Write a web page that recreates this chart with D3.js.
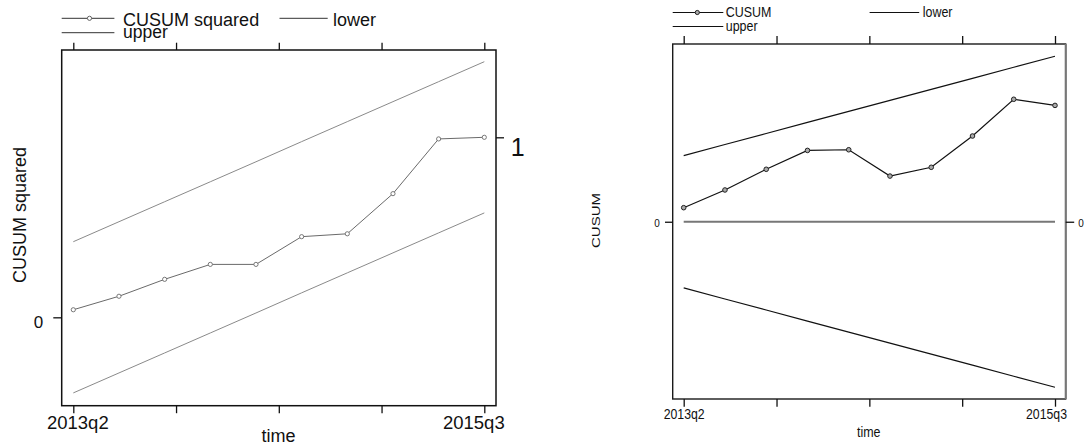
<!DOCTYPE html>
<html>
<head>
<meta charset="utf-8">
<script src="https://cdn.jsdelivr.net/npm/d3@7"></script>
<style>
  html, body { margin: 0; padding: 0; background: #fff; }
  svg { display: block; font-family: "Liberation Sans", Arial, sans-serif; }
</style>
</head>
<body>
<svg id="chart" width="1086" height="446"></svg>
<script>
// ---------- data ----------
const quarters = ["2013q2","2013q3","2013q4","2014q1","2014q2","2014q3","2014q4","2015q1","2015q2","2015q3"];
const cusumSquared = [0.042, 0.117, 0.211, 0.294, 0.294, 0.448, 0.464, 0.687, 0.991, 1.0];
const sqUpper = [0.42, 0.531, 0.642, 0.753, 0.864, 0.976, 1.087, 1.198, 1.309, 1.42];
const sqLower = [-0.42, -0.309, -0.198, -0.087, 0.024, 0.136, 0.247, 0.358, 0.469, 0.58];
const cusum = [0.85, 1.92, 3.17, 4.31, 4.35, 2.76, 3.29, 5.18, 7.40, 7.03];
const cusumUpper = [4.0, 4.667, 5.333, 6.0, 6.667, 7.333, 8.0, 8.667, 9.333, 10.0];
const cusumLower = [-4.0, -4.667, -5.333, -6.0, -6.667, -7.333, -8.0, -8.667, -9.333, -10.0];
const xTickPositions = [0, 2.25, 4.5, 6.75, 9];
const xTickLabels = ["2013q2", "", "", "", "2015q3"];
const leftTitles = { y: "CUSUM squared", x: "time" };
const rightTitles = { y: "CUSUM", x: "time" };
const legendLeft = ["CUSUM squared", "lower", "upper"];
const legendRight = ["CUSUM", "lower", "upper"];

const svg = d3.select("#chart");

// ================= LEFT PANEL =================
(function () {
  const box = { l: 61.7, r: 496, t: 50, b: 405.7 };
  const x = d3.scaleLinear().domain([0, quarters.length - 1]).range([73.3, 484.3]);
  const y = d3.scaleLinear().domain([-0.491, 1.485]).range([box.b, box.t]);
  const g = svg.append("g");

  const line = d3.line().x((d, i) => x(i)).y(d => y(d));
  g.append("path").datum(sqUpper).attr("d", line).attr("fill", "none").attr("stroke", "#8a8a8a").attr("stroke-width", 1);
  g.append("path").datum(sqLower).attr("d", line).attr("fill", "none").attr("stroke", "#8a8a8a").attr("stroke-width", 1);
  g.append("path").datum(cusumSquared).attr("d", line).attr("fill", "none").attr("stroke", "#6a6a6a").attr("stroke-width", 1);
  g.selectAll("circle.pt").data(cusumSquared).join("circle").attr("class", "pt")
    .attr("cx", (d, i) => x(i)).attr("cy", d => y(d)).attr("r", 2.1)
    .attr("fill", "#fff").attr("stroke", "#6a6a6a").attr("stroke-width", 0.9);

  g.append("rect").attr("x", box.l).attr("y", box.t).attr("width", box.r - box.l).attr("height", box.b - box.t)
    .attr("fill", "none").attr("stroke", "#111").attr("stroke-width", 1.5);

  // bottom axis
  const ax = g.append("g").attr("transform", `translate(0,${box.b})`)
    .call(d3.axisBottom(x).tickValues(xTickPositions).tickSize(7.5).tickFormat((d, i) => xTickLabels[i]));
  ax.select(".domain").remove();
  ax.selectAll("line").attr("stroke", "#111").attr("stroke-width", 1.3);
  ax.selectAll("text").attr("y", 23.3).attr("dy", 0).attr("fill", "#111")
    .style("font-size", "18.5px").attr("dx", (d, i) => i === 0 ? 4 : (i === 4 ? -11 : 0));

  // top axis
  const at = g.append("g").attr("transform", `translate(0,${box.t})`)
    .call(d3.axisTop(x).tickValues(xTickPositions).tickSize(7.3).tickFormat(""));
  at.select(".domain").remove();
  at.selectAll("line").attr("stroke", "#111").attr("stroke-width", 1.3);

  // left axis (0)
  const al = g.append("g").attr("transform", `translate(${box.l},0)`)
    .call(d3.axisLeft(y).tickValues([0]).tickSize(8.4).tickFormat(d3.format("d")));
  al.select(".domain").remove();
  al.selectAll("line").attr("stroke", "#111").attr("stroke-width", 1.3);
  al.selectAll("text").attr("x", -18.4).attr("dy", 0).attr("y", 9.7).attr("fill", "#111").style("font-size", "17px");

  // right axis (1)
  const ar = g.append("g").attr("transform", `translate(${box.r},0)`)
    .call(d3.axisRight(y).tickValues([1]).tickSize(8).tickFormat(d3.format("d")));
  ar.select(".domain").remove();
  ar.selectAll("line").attr("stroke", "#111").attr("stroke-width", 1.3);
  ar.selectAll("text").attr("x", 14.7).attr("dy", 0).attr("y", 17.7).attr("fill", "#111").style("font-size", "25px");

  // titles
  g.append("text").attr("x", 278.5).attr("y", 441.5).attr("text-anchor", "middle")
    .style("font-size", "18px").attr("fill", "#111").text(leftTitles.x);
  g.append("text").attr("transform", "translate(26,215) rotate(-90)").attr("text-anchor", "middle")
    .style("font-size", "18px").attr("fill", "#111").text(leftTitles.y);

  // legend
  const lg = g.append("g");
  lg.append("line").attr("x1", 61.7).attr("x2", 114.4).attr("y1", 18.3).attr("y2", 18.3).attr("stroke", "#333").attr("stroke-width", 1);
  lg.append("circle").attr("cx", 89.5).attr("cy", 18.3).attr("r", 2.1).attr("fill", "#fff").attr("stroke", "#555").attr("stroke-width", 0.9);
  lg.append("text").attr("x", 123.1).attr("y", 26).style("font-size", "18px").attr("fill", "#111").text(legendLeft[0]);
  lg.append("line").attr("x1", 279.5).attr("x2", 327.7).attr("y1", 18.3).attr("y2", 18.3).attr("stroke", "#333").attr("stroke-width", 1);
  lg.append("text").attr("x", 332.9).attr("y", 26).style("font-size", "18px").attr("fill", "#111").text(legendLeft[1]);
  lg.append("line").attr("x1", 61.7).attr("x2", 114.4).attr("y1", 32.7).attr("y2", 32.7).attr("stroke", "#333").attr("stroke-width", 1);
  lg.append("text").attr("x", 123.1).attr("y", 37.5).style("font-size", "17.5px").attr("fill", "#111").text(legendLeft[2]);
})();

// ================= RIGHT PANEL =================
(function () {
  const box = { l: 672.7, r: 1065.7, t: 44, b: 399 };
  const sx = 0.86;
  const x = d3.scaleLinear().domain([0, quarters.length - 1]).range([683.7, 1055]);
  const y = d3.scaleLinear().domain([-10.71, 10.74]).range([box.b, box.t]);
  const g = svg.append("g");

  // zero reference line
  g.append("line").attr("x1", x(0)).attr("x2", x(quarters.length - 1)).attr("y1", y(0)).attr("y2", y(0))
    .attr("stroke", "#777").attr("stroke-width", 2.2);

  const line = d3.line().x((d, i) => x(i)).y(d => y(d));
  g.append("path").datum(cusumUpper).attr("d", line).attr("fill", "none").attr("stroke", "#111").attr("stroke-width", 1.2);
  g.append("path").datum(cusumLower).attr("d", line).attr("fill", "none").attr("stroke", "#111").attr("stroke-width", 1.2);
  g.append("path").datum(cusum).attr("d", line).attr("fill", "none").attr("stroke", "#111").attr("stroke-width", 1.2);
  g.selectAll("circle.pt").data(cusum).join("circle").attr("class", "pt")
    .attr("cx", (d, i) => x(i)).attr("cy", d => y(d)).attr("r", 2.3)
    .attr("fill", "#aaa").attr("stroke", "#222").attr("stroke-width", 1);

  g.append("rect").attr("x", box.l).attr("y", box.t).attr("width", box.r - box.l).attr("height", box.b - box.t)
    .attr("fill", "none").attr("stroke", "#1a1a1a").attr("stroke-width", 1.4);
  g.append("line").attr("x1", box.r).attr("x2", box.r).attr("y1", box.t).attr("y2", box.b)
    .attr("stroke", "#777").attr("stroke-width", 2);

  // bottom axis
  const ax = g.append("g").attr("transform", `translate(0,${box.b})`)
    .call(d3.axisBottom(x).tickValues(xTickPositions).tickSize(7.7).tickFormat((d, i) => xTickLabels[i]));
  ax.select(".domain").remove();
  ax.selectAll("line").attr("stroke", "#111").attr("stroke-width", 1.3);
  ax.selectAll("text").attr("y", 20.3).attr("dy", 0).attr("fill", "#111")
    .style("font-size", "14.3px").attr("transform", `scale(${sx},1)`)
    .attr("dx", (d, i) => i === 4 ? -9 / sx : 0);

  // top axis
  const at = g.append("g").attr("transform", `translate(0,${box.t})`)
    .call(d3.axisTop(x).tickValues(xTickPositions).tickSize(8).tickFormat(""));
  at.select(".domain").remove();
  at.selectAll("line").attr("stroke", "#111").attr("stroke-width", 1.3);

  // left axis (0)
  const al = g.append("g").attr("transform", `translate(${box.l},0)`)
    .call(d3.axisLeft(y).tickValues([0]).tickSize(7.7).tickFormat(d3.format("d")));
  al.select(".domain").remove();
  al.selectAll("line").attr("stroke", "#111").attr("stroke-width", 1.3);
  al.selectAll("text").attr("x", 0).attr("dy", 0).attr("y", 5).attr("text-anchor", "middle")
    .attr("transform", `translate(-15.7,0) scale(${sx},1)`).attr("fill", "#111").style("font-size", "11.6px");

  // right axis (0)
  const ar = g.append("g").attr("transform", `translate(${box.r},0)`)
    .call(d3.axisRight(y).tickValues([0]).tickSize(8.5).tickFormat(d3.format("d")));
  ar.select(".domain").remove();
  ar.selectAll("line").attr("stroke", "#111").attr("stroke-width", 1.3);
  ar.selectAll("text").attr("x", 0).attr("dy", 0).attr("y", 5).attr("text-anchor", "start")
    .attr("transform", `translate(12.6,0) scale(${sx},1)`).attr("fill", "#111").style("font-size", "11.6px");

  // titles
  g.append("text").attr("transform", `translate(868.7,436.7) scale(${sx},1)`).attr("text-anchor", "middle")
    .style("font-size", "14.5px").attr("fill", "#111").text(rightTitles.x);
  g.append("text").attr("transform", "translate(599.5,220.5) scale(0.72,1) rotate(-90)").attr("text-anchor", "middle")
    .style("font-size", "15px").attr("fill", "#111").text(rightTitles.y);

  // legend
  const lg = g.append("g");
  const ly1 = 12.5, ly2 = 26.5;
  lg.append("line").attr("x1", 672.7).attr("x2", 723.3).attr("y1", ly1).attr("y2", ly1).attr("stroke", "#111").attr("stroke-width", 1.1);
  lg.append("circle").attr("cx", 697.3).attr("cy", ly1).attr("r", 2.1).attr("fill", "#aaa").attr("stroke", "#222").attr("stroke-width", 1);
  lg.append("text").attr("transform", `translate(725.7,17.3) scale(${sx},1)`).style("font-size", "14.5px").attr("fill", "#111").text(legendRight[0]);
  lg.append("line").attr("x1", 869.6).attr("x2", 919.2).attr("y1", ly1).attr("y2", ly1).attr("stroke", "#111").attr("stroke-width", 1.1);
  lg.append("text").attr("transform", `translate(922.7,17.3) scale(${sx},1)`).style("font-size", "14.5px").attr("fill", "#111").text(legendRight[1]);
  lg.append("line").attr("x1", 672.7).attr("x2", 723.3).attr("y1", ly2).attr("y2", ly2).attr("stroke", "#111").attr("stroke-width", 1.1);
  lg.append("text").attr("transform", `translate(725.7,30.5) scale(${sx},1)`).style("font-size", "14.5px").attr("fill", "#111").text(legendRight[2]);
})();
</script>
</body>
</html>
